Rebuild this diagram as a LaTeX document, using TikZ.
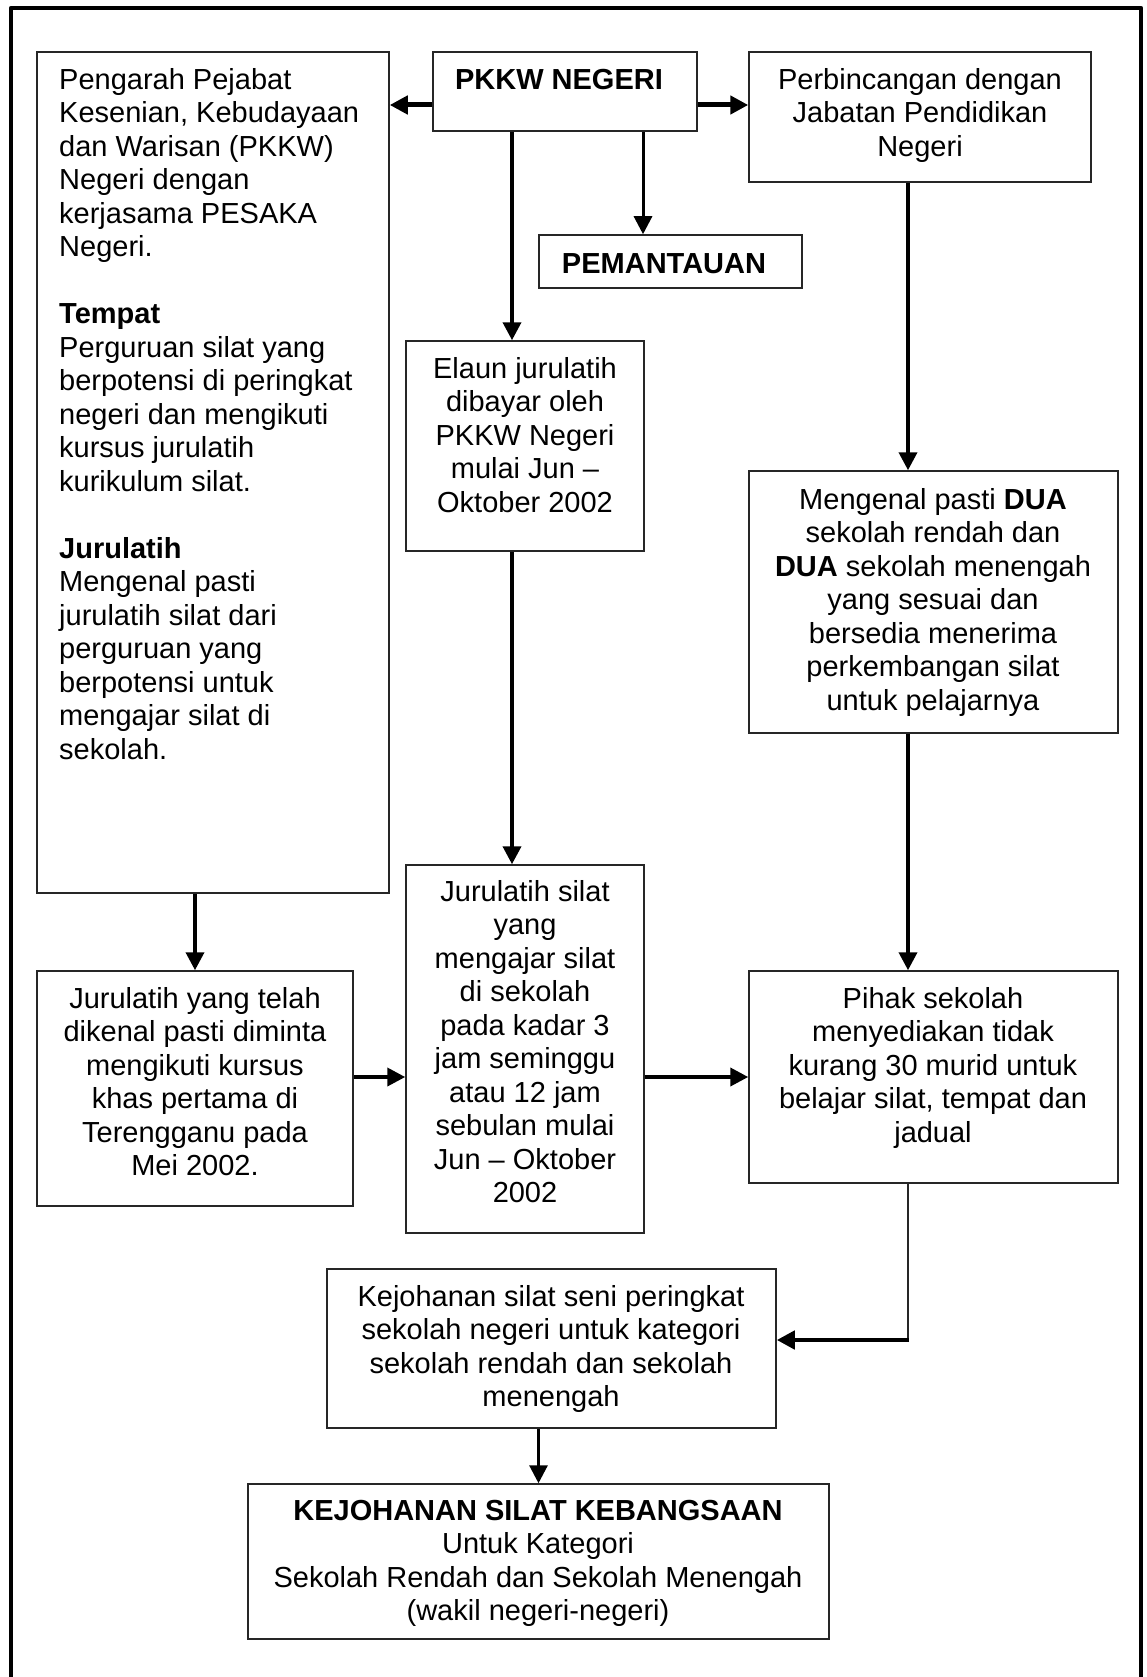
\documentclass[tikz,border=0pt]{standalone}
\usepackage{fontspec}
\setmainfont{Liberation Sans}
\usetikzlibrary{arrows.meta}
\newcommand{\fsz}{\fontsize{29}{33.5}\selectfont}
\begin{document}
\begin{tikzpicture}[x=1pt,y=-1pt,
  box/.style={draw=black!85, line width=1.5pt, inner sep=0pt},
  txt/.style={inner sep=0pt, anchor=north, yshift=23.45pt, font=\fsz, align=center},
  txtl/.style={inner sep=0pt, anchor=north west, yshift=23.45pt, font=\fsz, align=left},
  tip/.style={-{Triangle[length=18pt,width=18pt]}},
  conA/.style={tip, line width=5pt},
  conB/.style={tip, line width=3.8pt},
  conC/.style={tip, line width=3pt},
  thinline/.style={line width=2pt, draw=black!85}
]
\useasboundingbox (0,0) rectangle (1146,1677);
% outer frame (open at bottom)
\draw[line width=4.5pt, line join=round] (11,1680) -- (11,8) -- (1141,8) -- (1141,1680);

% boxes
\node[box, minimum width=352pt, minimum height=841pt] (peng)   at (213,472.5) {};
\node[box, minimum width=264pt, minimum height=79pt]  (pkkw)   at (565,91.5) {};
\node[box, minimum width=342pt, minimum height=130pt] (perb)   at (920,117) {};
\node[box, minimum width=263pt, minimum height=53pt]  (pem)    at (670.5,261.5) {};
\node[box, minimum width=238pt, minimum height=210pt] (elaun)  at (525,446) {};
\node[box, minimum width=369pt, minimum height=262pt] (meng)   at (933.5,602) {};
\node[box, minimum width=238pt, minimum height=368pt] (jsilat) at (525,1049) {};
\node[box, minimum width=316pt, minimum height=235pt] (jtelah) at (195,1088.5) {};
\node[box, minimum width=369pt, minimum height=212pt] (pihak)  at (933.5,1077) {};
\node[box, minimum width=449pt, minimum height=159pt] (kseni)  at (551.5,1348.5) {};
\node[box, minimum width=581pt, minimum height=155pt] (kbang)  at (538.5,1561.5) {};

% texts
\node[txtl] (tpeng) at (59,89) {\strut Pengarah Pejabat\\Kesenian, Kebudayaan\\dan Warisan (PKKW)\\Negeri dengan\\kerjasama PESAKA\\Negeri.\\[33.5pt]
\textbf{Tempat}\\Perguruan silat yang\\berpotensi di peringkat\\negeri dan mengikuti\\kursus jurulatih\\kurikulum silat.\\[33.5pt]
\textbf{Jurulatih}\\Mengenal pasti\\jurulatih silat dari\\perguruan yang\\berpotensi untuk\\mengajar silat di\\sekolah.};
\node[txt] (tpkkw) at (559,89) {\strut\textbf{PKKW NEGERI}};
\node[txt] (tperb) at (920,89) {\strut Perbincangan dengan\\Jabatan Pendidikan\\Negeri};
\node[txt] (tpem) at (664,273) {\strut\textbf{PEMANTAUAN}};
\node[txt] (telaun) at (525,378) {\strut Elaun jurulatih\\dibayar oleh\\PKKW Negeri\\mulai Jun \textendash\\Oktober 2002};
\node[txt] (tmeng) at (933,509) {\strut Mengenal pasti \textbf{DUA}\\sekolah rendah dan\\\textbf{DUA} sekolah menengah\\yang sesuai dan\\bersedia menerima\\perkembangan silat\\untuk pelajarnya};
\node[txt] (tjsilat) at (525,901) {\strut Jurulatih silat\\yang\\mengajar silat\\di sekolah\\pada kadar 3\\jam seminggu\\atau 12 jam\\sebulan mulai\\Jun \textendash\ Oktober\\2002};
\node[txt] (tjtelah) at (195,1008) {\strut Jurulatih yang telah\\dikenal pasti diminta\\mengikuti kursus\\khas pertama di\\Terengganu pada\\Mei 2002.};
\node[txt] (tpihak) at (933,1008) {\strut Pihak sekolah\\menyediakan tidak\\kurang 30 murid untuk\\belajar silat, tempat dan\\jadual};
\node[txt] (tkseni) at (551,1306) {\strut Kejohanan silat seni peringkat\\sekolah negeri untuk kategori\\sekolah rendah dan sekolah\\menengah};
\node[txt] (tkbang) at (538,1520) {\strut\textbf{KEJOHANAN SILAT KEBANGSAAN}\\Untuk Kategori\\Sekolah Rendah dan Sekolah Menengah\\(wakil negeri-negeri)};

% helper coordinates
\coordinate (yTop) at (0,105);
\coordinate (xPem) at (643,0);
\coordinate (xEl) at (512,0);
\coordinate (xR) at (908,0);
\coordinate (yMid) at (0,1077);
\coordinate (yK) at (0,1340);
\coordinate (xKs) at (909,0);

% connectors
\draw[conA] (pkkw.west |- yTop) -- (peng.east |- yTop);
\draw[conA] (pkkw.east |- yTop) -- (perb.west |- yTop);
\draw[conC] (pkkw.south -| xPem) -- (pem.north -| xPem);
\draw[conB] (pkkw.south -| xEl) -- (elaun.north -| xEl);
\draw[conB] (perb.south -| xR) -- (meng.north -| xR);
\draw[conB] (elaun.south -| xEl) -- (jsilat.north -| xEl);
\draw[conB] (meng.south -| xR) -- (pihak.north -| xR);
\draw[conB] (peng.south -| jtelah.north) -- (jtelah.north);
\draw[conB] (jtelah.east |- yMid) -- (jsilat.west |- yMid);
\draw[conB] (jsilat.east |- yMid) -- (pihak.west |- yMid);
\draw[thinline] (pihak.south -| xR) -- ([yshift=-2pt]xR |- yK) coordinate (corner);
\draw[tip, line width=4.5pt] (xKs |- yK) -- (kseni.east |- yK);
\draw[conC] (kseni.south -| kbang.north) -- (kbang.north);
\end{tikzpicture}
\end{document}
